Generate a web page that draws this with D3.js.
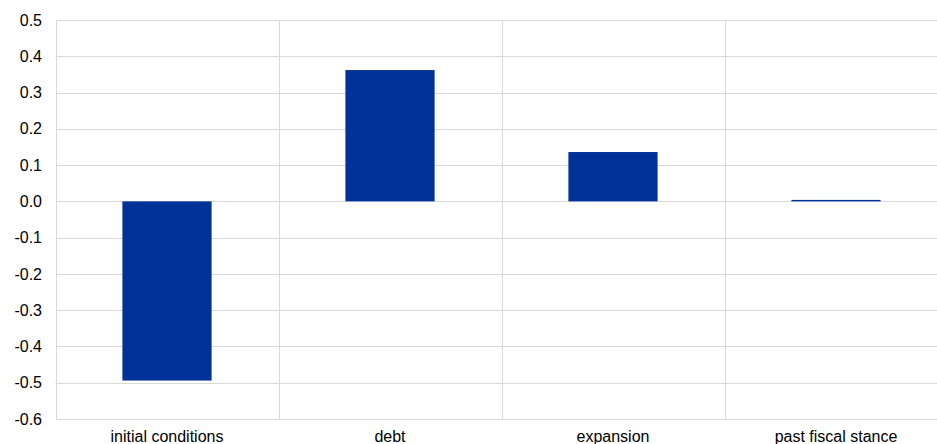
<!DOCTYPE html>
<html><head><meta charset="utf-8">
<script src="https://cdn.jsdelivr.net/npm/d3@7"></script>
<style>body{margin:0;background:#fff;} svg{display:block;}</style>
</head><body>
<script>
const categories = ["initial conditions", "debt", "expansion", "past fiscal stance"];
const values = [-0.494, 0.362, 0.136, 0.004];
const yTicks = [-0.6, -0.5, -0.4, -0.3, -0.2, -0.1, 0.0, 0.1, 0.2, 0.3, 0.4, 0.5];

const W = 937, H = 444;
const svg = d3.select("body").append("svg").attr("width", W).attr("height", H);
const x = d3.scaleBand().domain(categories).range([55.5, 947.5]).padding(0);
const y = d3.scaleLinear().domain([-0.6, 0.5]).range([419, 20]);
const font = "'Liberation Sans', Arial, sans-serif";
const fmt = d3.formatLocale({decimal: ".", thousands: ",", grouping: [3], currency: ["", ""], minus: "-"}).format(".1f");

// horizontal gridlines
svg.append("g").selectAll("line").data(yTicks).join("line")
  .attr("x1", 55.5).attr("x2", W)
  .attr("y1", d => Math.round(y(d)) + 0.5).attr("y2", d => Math.round(y(d)) + 0.5)
  .attr("stroke", "#d9d9d9").attr("stroke-width", 1);
// vertical gridlines at category boundaries
const bounds = categories.map(c => x(c));
svg.append("g").selectAll("line").data(bounds).join("line")
  .attr("x1", d => Math.round(d) + 0.5).attr("x2", d => Math.round(d) + 0.5)
  .attr("y1", 20).attr("y2", 419)
  .attr("stroke", "#d9d9d9").attr("stroke-width", 1);

// bars
const bw = x.bandwidth();
svg.append("g").selectAll("rect").data(values).join("rect")
  .attr("x", (d, i) => x(categories[i]) + bw * 0.3)
  .attr("width", bw * 0.4)
  .attr("y", d => y(Math.max(0, d)))
  .attr("height", d => Math.max(1, Math.abs(y(d) - y(0))))
  .attr("fill", "#003299");

// y tick labels
svg.append("g").selectAll("text").data(yTicks).join("text")
  .attr("x", 42).attr("y", d => y(d)).attr("dy", "0.35em")
  .attr("text-anchor", "end").attr("font-family", font).attr("font-size", 16)
  .attr("fill", "#000").text(d => fmt(d));

// x labels
svg.append("g").selectAll("text").data(categories).join("text")
  .attr("x", d => x(d) + bw / 2).attr("y", 442)
  .attr("text-anchor", "middle").attr("font-family", font).attr("font-size", 16)
  .attr("fill", "#000").text(d => d);
</script>
</body></html>
